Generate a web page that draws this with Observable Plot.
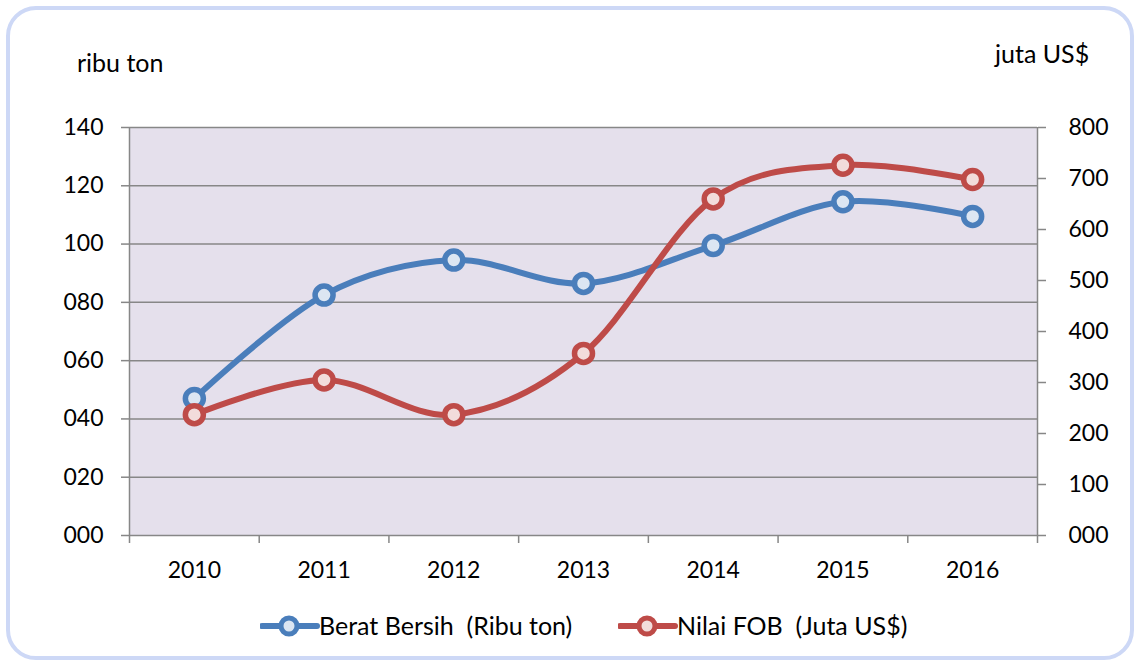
<!DOCTYPE html>
<html>
<head>
<meta charset="utf-8">
<script src="https://cdn.jsdelivr.net/npm/d3@7"></script>
<script src="https://cdn.jsdelivr.net/npm/@observablehq/plot@0.6"></script>
<style>
  html, body { margin: 0; padding: 0; background: #fff; }
  #wrap { position: relative; width: 1136px; height: 662px; overflow: hidden; font-family: Lato, "Open Sans", sans-serif; color: #000; }
  #frame { position: absolute; left: 6px; top: 6px; width: 1128px; height: 654px; box-sizing: border-box; border: 4px solid #cdd8f6; border-radius: 30px; pointer-events: none; }
  .lbl { position: absolute; font-size: 25px; line-height: 25px; white-space: pre; }
  .leg { position: absolute; top: 614px; height: 24px; }
  .legtxt { position: absolute; font-size: 25px; line-height: 25px; white-space: pre; top: 613px; }
  #chart { position: absolute; left: 0; top: 0; }
</style>
</head>
<body>
<div id="wrap">
  <div id="chart"></div>
  <div class="lbl" style="left:77px; top:50px;">ribu ton</div>
  <div class="lbl" style="left:995px; top:41px;">juta US$</div>
  <div id="legend"></div>
  <div id="frame"></div>
</div>
<script>
const years = ["2010", "2011", "2012", "2013", "2014", "2015", "2016"];
const beratBersih = [47, 82.5, 94.5, 86.5, 99.5, 114.5, 109.5];   // ribu ton (left axis)
const nilaiFOB = [237, 305, 237, 357, 660, 726, 698];             // juta US$ (right axis)
const leftTicks = [0, 20, 40, 60, 80, 100, 120, 140];
const rightTicks = [0, 100, 200, 300, 400, 500, 600, 700, 800];
const seriesNames = ["Berat Bersih  (Ribu ton)", "Nilai FOB  (Juta US$)"];
const colors = ["#4a7ebb", "#be4b48"];
const fills = ["#dce6f2", "#f2dcdb"];

const leftMax = 140, rightMax = 800;
const toLeft = v => v * leftMax / rightMax;

const rows = years.map((y, i) => ({ i, year: y, berat: beratBersih[i], nilai: nilaiFOB[i] }));
const xPos = d => d.i + 0.5;
const pad3 = v => String(Math.round(v)).padStart(3, "0");
const gray = "#878787";

const chart = Plot.plot({
  width: 1136,
  height: 662,
  marginLeft: 129,
  marginRight: 99,
  marginTop: 127,
  marginBottom: 127,
  style: { background: "transparent", fontFamily: "Lato, 'Open Sans', sans-serif", color: "#000", overflow: "visible" },
  x: { type: "linear", domain: [0, years.length] },
  y: { domain: [0, leftMax] },
  marks: [
    Plot.frame({ fill: "#e5e0ec", stroke: null }),
    Plot.gridY({ ticks: leftTicks, stroke: gray, strokeOpacity: 1, strokeWidth: 1.5 }),
    Plot.ruleX([0, years.length], { stroke: gray, strokeWidth: 1.5 }),
    // left axis
    Plot.axisY({ ticks: leftTicks, anchor: "left", tickSize: 8, stroke: gray, strokeWidth: 1.5, fill: "none", label: null }),
    Plot.axisY({ ticks: leftTicks, anchor: "left", tickSize: 0, tickPadding: 26, tickFormat: pad3, fontSize: 23, fill: "#000", label: null }),
    // right axis (juta US$)
    Plot.axisY({ ticks: rightTicks.map(toLeft), anchor: "right", tickSize: 8, stroke: gray, strokeWidth: 1.5, fill: "none", label: null }),
    Plot.axisY({ ticks: rightTicks.map(toLeft), anchor: "right", tickSize: 0, tickPadding: 31, tickFormat: d => pad3(d * rightMax / leftMax), fontSize: 23, fill: "#000", label: null }),
    // x axis: boundary ticks and category labels
    Plot.axisX({ ticks: d3.range(0, years.length + 1), anchor: "bottom", tickSize: 8, stroke: gray, strokeWidth: 1.5, fill: "none", label: null }),
    Plot.axisX({ ticks: years.map((_, i) => i + 0.5), anchor: "bottom", tickSize: 0, tickPadding: 26, tickFormat: d => years[Math.round(d - 0.5)], fontSize: 23, fill: "#000", label: null }),
    // series
    Plot.line(rows, { x: xPos, y: "berat", curve: "cardinal", stroke: colors[0], strokeWidth: 6 }),
    Plot.dot(rows, { x: xPos, y: "berat", r: 9, stroke: colors[0], strokeWidth: 5.5, fill: fills[0], fillOpacity: 1 }),
    Plot.line(rows, { x: xPos, y: d => toLeft(d.nilai), curve: "cardinal", stroke: colors[1], strokeWidth: 6 }),
    Plot.dot(rows, { x: xPos, y: d => toLeft(d.nilai), r: 9, stroke: colors[1], strokeWidth: 5.5, fill: fills[1], fillOpacity: 1 })
  ]
});
document.getElementById("chart").appendChild(chart);

// legend
const legend = document.getElementById("legend");
const legPos = [{ sw: 260, tx: 319 }, { sw: 618, tx: 677 }];
seriesNames.forEach((name, k) => {
  const ns = "http://www.w3.org/2000/svg";
  const svg = document.createElementNS(ns, "svg");
  svg.setAttribute("width", 60);
  svg.setAttribute("height", 24);
  svg.setAttribute("class", "leg");
  svg.style.left = legPos[k].sw + "px";
  const line = document.createElementNS(ns, "line");
  line.setAttribute("x1", 2); line.setAttribute("x2", 57);
  line.setAttribute("y1", 12); line.setAttribute("y2", 12);
  line.setAttribute("stroke", colors[k]); line.setAttribute("stroke-width", 6);
  line.setAttribute("stroke-linecap", "round");
  svg.appendChild(line);
  const c = document.createElementNS(ns, "circle");
  c.setAttribute("cx", 29); c.setAttribute("cy", 12); c.setAttribute("r", 8);
  c.setAttribute("fill", fills[k]); c.setAttribute("stroke", colors[k]); c.setAttribute("stroke-width", 5);
  svg.appendChild(c);
  legend.appendChild(svg);
  const t = document.createElement("div");
  t.className = "legtxt";
  t.style.left = legPos[k].tx + "px";
  t.textContent = name;
  legend.appendChild(t);
});
</script>
</body>
</html>
